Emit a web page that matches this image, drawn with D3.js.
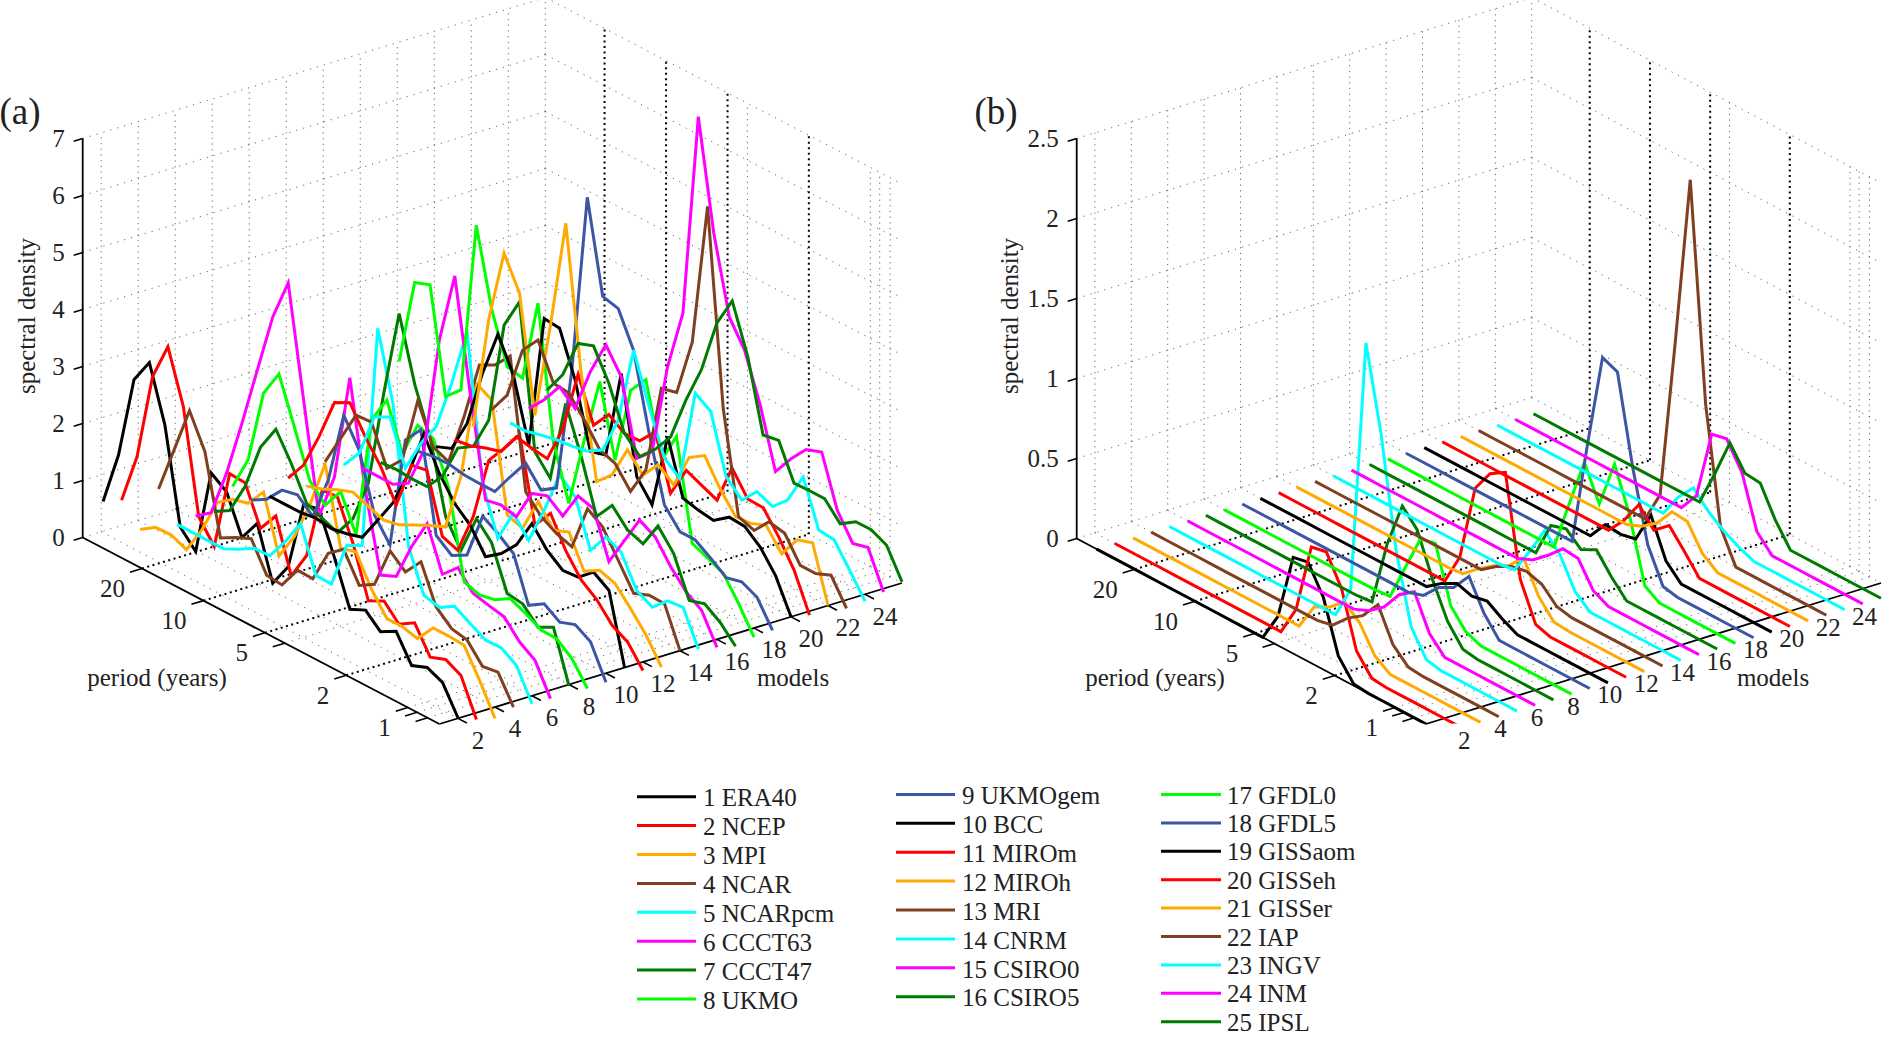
<!DOCTYPE html>
<html>
<head>
<meta charset="utf-8">
<script src="https://cdnjs.cloudflare.com/ajax/libs/d3/7.8.5/d3.min.js"></script>
<style>
  html, body { margin: 0; padding: 0; background: #fff; }
  svg { display: block; }
  text { font-family: "Liberation Serif", serif; font-size: 25px; fill: #222; }
</style>
</head>
<body>
<div id="chart"></div>
<script>
var modelNames = ["ERA40","NCEP","MPI","NCAR","NCARpcm","CCCT63","CCCT47","UKMO","UKMOgem","BCC","MIROm","MIROh","MRI","CNRM","CSIRO0","CSIRO5","GFDL0","GFDL5","GISSaom","GISSeh","GISSer","IAP","INGV","INM","IPSL"];
var palette = ["#000000","#ff0000","#ffaa00","#804020","#00ffff","#ff00ff","#007a00","#00ff00","#3c55a5"];

var periods = [31.0,26.03,21.88,18.39,15.45,12.99,10.91,9.17,7.71,6.48,5.45,4.58,3.85,3.23,2.72,2.28,1.92,1.61,1.36,1.14,0.957,0.804,0.676,0.568];
var periodTicks = [20,10,5,4,2,1,0.9,0.8];
var periodTickLabels = ["20","10","5","","2","1","",""];
var darkPeriodGrid = [20,10,5,2];
var modelTicks = [2,4,6,8,10,12,14,16,18,20,22,24];
var densityTicksA = [0,1,2,3,4,5,6,7];
var densityTicksB = [0,0.5,1,1.5,2,2.5];

// panel (a), one row per model, long periods first
var densityA = [
  [.82,1.78,3.24,3.68,2.73,1.08,.79,2.31,2.12,1.46,1.85,.94,1.37,2.61,2.66,1.95,1.19,1.32,1.08,1.23,.77,.88,.76,.28],
  [.74,1.65,3.19,3.86,2.95,1.16,.78,2.2,2.18,1.52,1.88,.97,1.47,2.76,2.78,2.1,1.24,1.38,1.11,1.28,.82,.92,.78,.15],
  [.13,.31,.32,.2,.69,1.31,1.51,1.58,1.92,.94,1.42,2.11,2.98,1.64,1.72,1.2,.83,.83,.76,1.09,1.09,1.07,.6,.07],
  [.74,1.57,2.4,1.82,.45,.6,.72,.22,.19,.59,.58,1.17,1.38,.89,1.05,1.78,1.55,1.87,1.22,.98,.92,.6,.64,.17],
  [.02,.02,.02,.02,.15,.31,.32,.71,1.17,.4,.39,1.21,1.35,5.3,4.12,1.75,1.04,.97,1.13,.97,.82,.83,.66,.13],
  [.07,.27,1.1,2.12,3.2,4.27,5.01,3.09,1.19,2.03,3.91,2.08,.73,.85,1.51,2.06,1.31,1.57,1.26,1.19,1.13,.83,.65,.12],
  [.05,.21,.77,1.6,2.06,1.6,1.04,.92,.81,1.2,1.96,3.68,5.22,4.12,3.34,2.08,1.63,2.33,2.05,1.3,1.26,.99,1.13,.25],
  [.39,1.0,2.31,2.79,2.0,1.2,.91,1.29,.67,2.83,3.32,2.52,3.16,3.07,2.36,.84,.75,.81,.97,.85,.7,.69,.48,.1],
  [.05,.21,.51,.57,.33,1.11,2.39,1.92,.92,.54,2.52,2.84,1.13,.92,1.07,1.89,1.73,1.52,.75,.92,.74,.84,.68,.11],
  [.02,.02,.02,.06,.02,.07,.15,.59,1.04,1.69,2.53,1.98,1.59,1.35,.94,1.14,1.43,1.95,1.62,1.41,1.43,1.66,1.48,.28],
  [.24,.61,1.25,1.99,2.13,1.67,1.29,.76,1.6,1.65,.63,.53,1.26,2.39,2.74,3.12,1.68,2.03,1.52,1.14,.94,.63,.48,.12],
  [.0,.09,.22,.32,.21,.11,.17,.31,.44,.56,1.58,3.36,3.21,1.33,1.24,1.85,1.49,1.6,1.05,1.21,1.12,.82,.5,.08],
  [.33,.88,1.43,1.45,.78,1.07,2.25,1.58,1.46,2.39,3.44,3.58,3.88,1.64,1.35,1.19,1.1,1.91,1.73,1.29,.85,.96,.95,.27],
  [.17,.52,1.3,1.44,.68,1.26,1.7,2.6,3.64,1.12,.3,.88,.55,1.22,1.98,1.74,.94,1.32,1.19,.66,.51,.76,.79,.2],
  [.02,.02,.02,.18,.9,2.97,4.24,2.32,.59,.65,.58,1.13,1.23,1.02,1.51,1.43,.64,1.16,1.65,1.5,1.12,.82,.64,.13],
  [.02,.04,.02,.02,.34,.98,1.15,1.75,3.56,4.11,1.62,1.3,2.75,1.96,1.05,1.39,1.1,1.0,1.45,1.11,.43,.51,.33,.05],
  [1.69,3.22,3.32,1.5,1.76,4.79,3.45,2.59,2.53,3.99,1.7,.76,2.01,3.18,1.94,3.31,3.64,2.37,2.92,1.19,1.07,.95,.56,.11],
  [.02,.07,.08,.03,.02,.02,.42,.8,.47,.65,2.86,6.03,4.43,4.36,3.77,2.45,1.34,1.01,1.01,.83,.63,.7,.57,.13],
  [.0,.11,.69,1.71,2.54,1.97,.88,3.24,3.21,2.45,1.33,1.41,2.98,1.31,.96,2.3,1.36,1.29,1.25,1.45,1.43,1.21,.85,.27],
  [.02,.06,.16,.24,.64,.58,.54,1.2,2.3,1.55,1.88,1.69,1.7,2.0,1.06,1.61,1.49,1.37,2.07,1.67,1.66,1.29,.85,.2],
  [.15,2.17,3.48,2.92,.92,2.62,4.57,2.08,.32,.58,1.16,.86,1.18,.97,1.59,1.77,1.33,.98,1.0,1.11,.75,1.14,1.23,.27],
  [.35,.75,1.68,2.0,1.38,1.35,1.02,.64,.54,.19,.71,2.28,2.35,3.38,5.9,2.5,.74,.64,.93,.87,.45,.45,.56,.12],
  [.02,.02,.09,.15,.18,.23,.4,1.06,2.43,1.58,.82,.6,2.24,2.06,1.06,.79,1.08,.96,1.21,1.76,.97,.94,.55,.15],
  [.17,.47,.84,.6,1.39,2.0,1.58,.29,.55,2.18,3.26,6.85,4.95,3.62,3.18,2.36,1.33,1.7,2.0,2.1,1.22,.78,.85,.21],
  [.4,.81,1.5,1.6,1.08,.35,.08,.35,.71,1.5,2.17,3.13,3.66,2.82,1.59,1.64,1.03,1.04,1.04,.74,.92,.92,.79,.29]
];

// panel (b)
var densityB = [
  [0,0,0,0,0,0,0,0,0,0,0,0,.18,.6,.62,.45,.135,.01,0,0,0,0,0,0],
  [0,0,0,0,0,0,0,0,0,0,0,0,.19,.63,.65,.47,.13,.01,0,0,0,0,0,0],
  [0,0,0,0,0,0,0,0,0,0,0,0,.17,.22,.3,.22,.065,0,0,0,0,0,0,0],
  [0,0,0,0,0,0,0,0,0,0,0,0,.02,.115,.18,.3,.1,.01,0,0,0,0,0,0],
  [0,0,0,0,0,0,0,0,0,0,0,0,.21,1.8,1.29,.6,.175,.02,0,0,0,0,0,0],
  [0,0,0,0,0,0,0,0,0,0,0,0,.04,.115,.24,.31,.1,0,0,0,0,0,0,0],
  [0,0,0,0,0,0,0,0,0,0,0,.01,.42,.71,.61,.35,.14,.015,0,0,0,0,0,0],
  [0,0,0,0,0,0,0,0,0,0,0,.01,.24,.47,.49,.15,.04,0,0,0,0,0,0,0],
  [0,0,0,0,0,0,0,0,0,0,0,0,.03,.13,.18,.3,.12,0,0,0,0,0,0,0],
  [0,0,0,0,0,0,0,0,0,0,0,0,.07,.12,.09,.11,.05,0,0,0,0,0,0,0],
  [0,0,0,0,0,0,0,0,0,0,0,0,.2,.68,.82,.88,.26,.03,0,0,0,0,0,0],
  [0,0,0,0,0,0,0,0,0,0,0,.01,.09,.16,.21,.31,.12,.01,0,0,0,0,0,0],
  [0,0,0,0,0,0,0,0,0,0,0,0,.07,.12,.14,.11,.02,0,0,0,0,0,0,0],
  [0,0,0,0,0,0,0,0,0,0,0,0,.015,.18,.36,.26,.08,0,0,0,0,0,0,0],
  [0,0,0,0,0,0,0,0,0,0,0,0,.04,.12,.21,.2,.05,0,0,0,0,0,0,0],
  [0,0,0,0,0,0,0,0,0,0,0,0,.22,.25,.17,.22,.1,0,0,0,0,0,0,0],
  [0,0,0,0,0,0,0,0,0,0,0,0,.32,.63,.42,.72,.45,.06,0,0,0,0,0,0],
  [0,0,0,0,0,0,0,0,0,0,0,0,.65,1.25,1.21,.66,.23,.02,0,0,0,0,0,0],
  [0,0,0,0,0,0,0,0,0,0,0,0,.12,.11,.13,.33,.095,0,0,0,0,0,0,0],
  [0,0,0,0,0,0,0,0,0,0,0,0,.11,.26,.15,.23,.12,0,0,0,0,0,0,0],
  [0,0,0,0,0,0,0,0,0,0,0,0,.04,.11,.23,.22,.07,0,0,0,0,0,0,0],
  [0,0,0,0,0,0,0,0,0,0,0,0,.2,1.21,2.27,.92,.2,0,0,0,0,0,0,0],
  [0,0,0,0,0,0,0,0,0,0,0,0,.15,.26,.16,.09,.04,0,0,0,0,0,0,0],
  [0,0,0,0,0,0,0,0,0,0,0,0,.125,.56,.58,.42,.1,0,0,0,0,0,0,0],
  [0,0,0,0,0,0,0,0,0,0,0,0,.225,.47,.33,.32,.14,0,0,0,0,0,0,0]
];

var width = 1883, height = 1037;
var svg = d3.select("#chart").append("svg").attr("width", width).attr("height", height);

// one model axis and one period axis are shared, only the 3d placement differs
var modelScale = d3.scaleLinear().domain([1, 26]).range([0, 1]);
var periodScale = d3.scaleLog().domain([39, 0.7]).range([0, 1]);

function drawPanel(opt) {
  var zScale = d3.scaleLinear().domain([0, opt.zMax]).range([0, opt.zLength]);

  function project(model, period, value) {
    var u = modelScale(model), v = periodScale(period);
    return [opt.left[0] + u * opt.modelVec[0] + v * opt.periodVec[0],
            opt.left[1] + u * opt.modelVec[1] + v * opt.periodVec[1] - zScale(value)];
  }

  var g = svg.append("g");
  var line = d3.line();
  var longP = periodScale.domain()[0], shortP = periodScale.domain()[1];
  var lastM = modelScale.domain()[1], firstM = modelScale.domain()[0];

  function seg(a, b, stroke, w, dash) {
    g.append("path").attr("d", line([a, b]))
      .attr("fill", "none").attr("stroke", stroke)
      .attr("stroke-width", w).attr("stroke-dasharray", dash);
  }

  var grey = "#666", dotsGrey = "1.2 6", vertGrey = "1.2 4.5", dotsDark = "2 3.5";

  // value grid on both back walls
  opt.zTicks.forEach(function (z) {
    seg(project(firstM, longP, z), project(lastM, longP, z), grey, 1, dotsGrey);
    seg(project(lastM, longP, z), project(lastM, shortP, z), grey, 1, dotsGrey);
  });
  // model grid: back wall and floor
  modelTicks.forEach(function (m) {
    seg(project(m, longP, 0), project(m, longP, opt.zMax), grey, 1, vertGrey);
    seg(project(m, longP, 0), project(m, shortP, 0), grey, 1, dotsGrey);
  });
  // period grid: floor and right wall
  periodTicks.forEach(function (p) {
    var dark = darkPeriodGrid.indexOf(p) >= 0;
    seg(project(firstM, p, 0), project(lastM, p, 0), dark ? "#000" : grey, dark ? 2 : 1, dark ? dotsDark : dotsGrey);
    seg(project(lastM, p, 0), project(lastM, p, opt.zMax), dark ? "#000" : grey, dark ? 2 : 1, dark ? dotsDark : vertGrey);
  });
  seg(project(lastM, longP, 0), project(lastM, longP, opt.zMax), grey, 1, vertGrey);

  // axes
  seg(project(firstM, longP, 0), project(firstM, longP, opt.zMax), "#000", 1.8);
  seg(project(firstM, longP, 0), project(firstM, shortP, 0), "#000", 1.8);
  seg(project(firstM, shortP, 0), project(lastM, shortP, 0), "#000", 1.8);

  opt.zTicks.forEach(function (z, i) {
    var p = project(firstM, longP, z);
    seg(p, [p[0] - 9, p[1] + 2.8], "#000", 1.6);
    g.append("text").attr("x", p[0] - 18).attr("y", p[1]).attr("dy", "0.33em")
      .attr("text-anchor", "end").text(opt.zLabels[i]);
  });
  periodTicks.forEach(function (t, i) {
    var p = project(firstM, t, 0);
    seg(p, [p[0] - 12, p[1] + 3.7], "#000", 1.6);
    g.append("text").attr("x", p[0] - 17).attr("y", p[1] + 20).attr("dy", "0.33em")
      .attr("text-anchor", "end").text(periodTickLabels[i]);
  });
  modelTicks.forEach(function (m) {
    var p = project(m, shortP, 0);
    seg(p, [p[0] + 9, p[1] + 4.7], "#000", 1.6);
    g.append("text").attr("x", p[0] + 20).attr("y", p[1] + 22).attr("dy", "0.33em")
      .attr("text-anchor", "middle").text(m);
  });

  // spectra
  var curves = g.append("g").attr("clip-path", opt.clip ? "url(#" + opt.clip + ")" : null);
  opt.values.forEach(function (row, i) {
    var pts = row.map(function (v, k) { return project(i + 1, periods[k], v); });
    curves.append("path").attr("d", line(pts))
      .attr("fill", "none").attr("stroke", palette[i % palette.length])
      .attr("stroke-width", 3).attr("stroke-linejoin", "miter");
  });

  g.append("text").attr("transform", "translate(" + opt.zLabelPos + ") rotate(-90)")
    .attr("text-anchor", "middle").attr("dy", "0.33em").text("spectral density");
  g.append("text").attr("x", opt.periodLabelPos[0]).attr("y", opt.periodLabelPos[1])
    .attr("text-anchor", "middle").attr("dy", "0.33em").text("period (years)");
  g.append("text").attr("x", opt.modelLabelPos[0]).attr("y", opt.modelLabelPos[1])
    .attr("text-anchor", "middle").attr("dy", "0.33em").text("models");
  g.append("text").attr("x", opt.tagPos[0]).attr("y", opt.tagPos[1])
    .attr("text-anchor", "middle").attr("dy", "0.33em").style("font-size", "37px").text(opt.tag);
}

svg.append("defs").append("clipPath").attr("id", "clipB").append("rect")
  .attr("x", 950).attr("y", 0).attr("width", 933).attr("height", 723.5);

drawPanel({
  tag: "(a)", tagPos: [20, 112], left: [82.7, 537.5], modelVec: [462.6, -141], periodVec: [356.7, 186.5],
  zLength: 399, zMax: 7, zTicks: densityTicksA, zLabels: densityTicksA.map(String), values: densityA,
  zLabelPos: [27, 316], periodLabelPos: [157, 678], modelLabelPos: [793, 678]
});
drawPanel({
  tag: "(b)", tagPos: [996, 112], left: [1076.7, 538.5], modelVec: [455, -141], periodVec: [349.3, 185.5],
  zLength: 400, zMax: 2.5, zTicks: densityTicksB, zLabels: densityTicksB.map(String), values: densityB,
  clip: "clipB", zLabelPos: [1010, 316], periodLabelPos: [1155, 678], modelLabelPos: [1773, 678]
});

// legend, three columns
var legendColumns = [
  { from: 0, to: 8, lineX: [637, 696], textX: 703, y: 796.7, step: 28.9, textDy: 2.2 },
  { from: 8, to: 16, lineX: [896, 955], textX: 962, y: 794.4, step: 28.9, textDy: 2.2 },
  { from: 16, to: 25, lineX: [1161, 1221], textX: 1227, y: 794.5, step: 28.4, textDy: 1.5 }
];
legendColumns.forEach(function (c) {
  d3.range(c.from, c.to).forEach(function (i, r) {
    var y = c.y + r * c.step;
    svg.append("line").attr("x1", c.lineX[0]).attr("x2", c.lineX[1]).attr("y1", y).attr("y2", y)
      .attr("stroke", palette[i % palette.length]).attr("stroke-width", 3);
    svg.append("text").attr("x", c.textX).attr("y", y + c.textDy).attr("dy", "0.3em")
      .text((i + 1) + " " + modelNames[i]);
  });
});
</script>
</body>
</html>
